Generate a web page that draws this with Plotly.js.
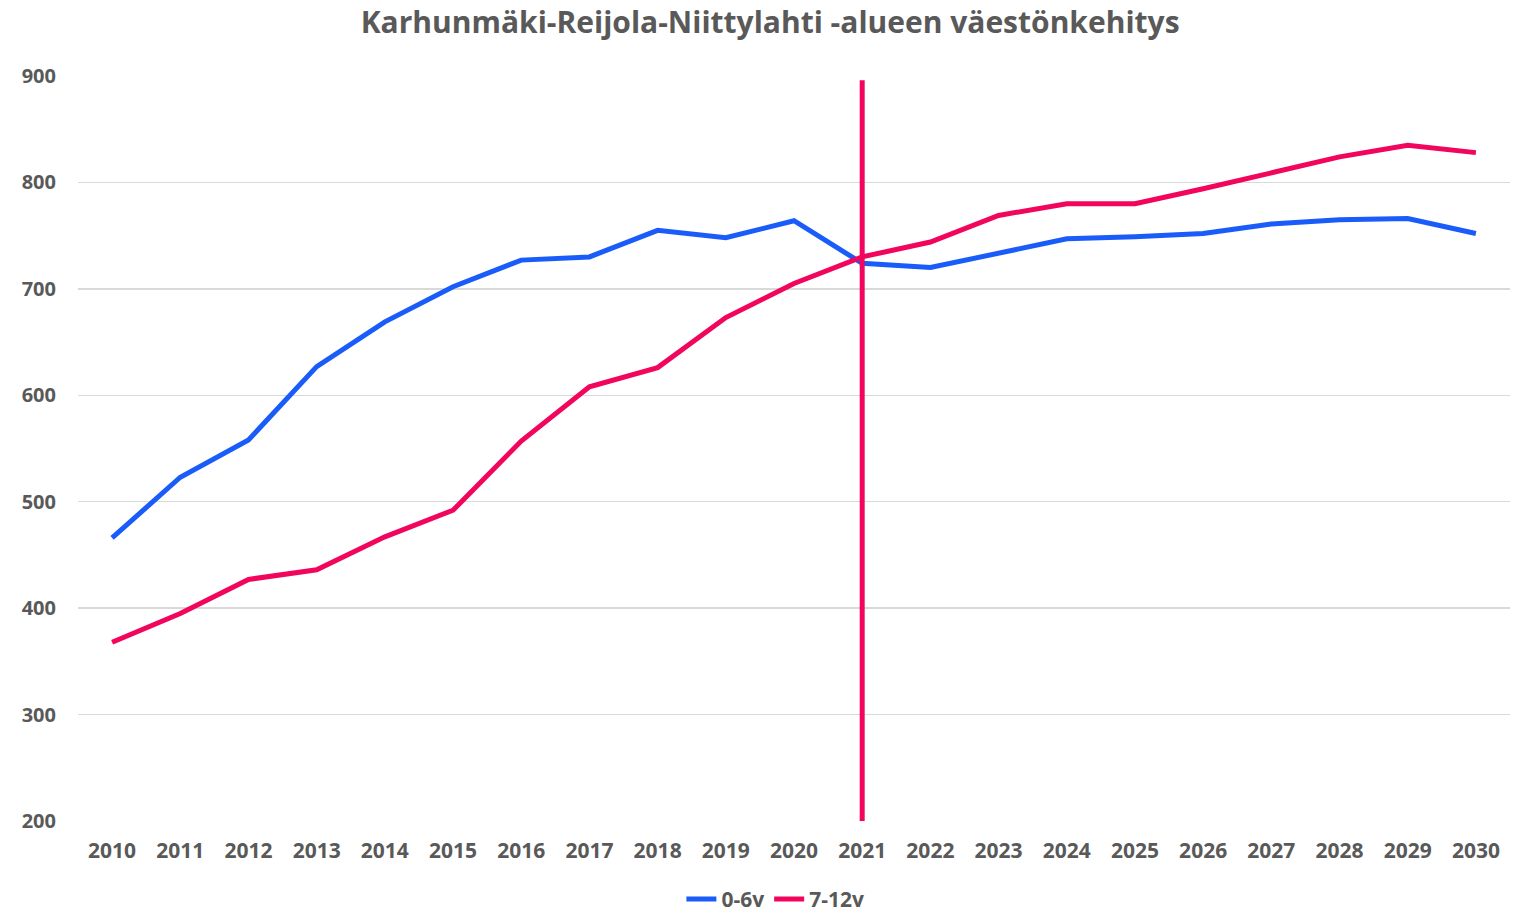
<!DOCTYPE html>
<html>
<head>
<meta charset="utf-8">
<script src="https://cdn.plot.ly/plotly-3.0.1.min.js"></script>
<style>html,body{margin:0;padding:0;background:#fff;}#chart{width:1519px;height:914px;}</style>
</head>
<body>
<div id="chart"></div>
<script>
const years = ['2010','2011','2012','2013','2014','2015','2016','2017','2018','2019','2020','2021','2022','2023','2024','2025','2026','2027','2028','2029','2030'];
const age0to6 = [466,523,558,627,669,702,727,730,755,748,764,724,720,734,747,749,752,761,765,766,752];
const age7to12 = [368,395,427,436,467,492,557,608,626,673,705,730,744,769,780,780,794,809,824,835,828];
const seriesNames = ['0-6v','7-12v'];
const markerYear = '2021';
const markerRange = [200, 896];
const yTicks = [200,300,400,500,600,700,800,900];

const FONT = "'Open Sans', sans-serif";
const GRAY = '#595959';
const BLUE = '#1A5CFA';
const RED = '#F2055C';

const traces = [
  {x: years, y: age0to6, name: seriesNames[0], type: 'scatter', mode: 'lines', line: {color: BLUE, width: 5}},
  {x: years, y: age7to12, name: seriesNames[1], type: 'scatter', mode: 'lines', line: {color: RED, width: 5}},
  {x: [markerYear, markerYear], y: markerRange, type: 'scatter', mode: 'lines', line: {color: RED, width: 5}, showlegend: false, hoverinfo: 'skip'}
];

const layout = {
  width: 1519, height: 914,
  margin: {l: 78, r: 9, t: 76, b: 93},
  paper_bgcolor: '#fff', plot_bgcolor: '#fff',
  font: {family: FONT, color: GRAY},
  title: {text: 'Karhunmäki-Reijola-Niittylahti -alueen väestönkehitys', font: {family: FONT, size: 30, color: GRAY, weight: 'bold'}, x: 0.507, xanchor: 'center', y: 0.975, yanchor: 'middle', yref: 'container'},
  xaxis: {type: 'category', range: [-0.5, 20.5], showgrid: false, zeroline: false, showline: false, ticks: '', tickfont: {family: FONT, size: 21, color: GRAY, weight: 'bold'}, ticklabelstandoff: 15},
  yaxis: {range: [200, 900], tickvals: yTicks, showgrid: true, gridcolor: '#d9d9d9', gridwidth: 1.5, zeroline: false, showline: false, ticks: '', tickfont: {family: FONT, size: 20, color: GRAY, weight: 'bold'}, ticklabelstandoff: 21},
  legend: {orientation: 'h', x: 0.487, xanchor: 'center', xref: 'paper', y: 0.016, yanchor: 'middle', yref: 'container', font: {family: FONT, size: 21, color: GRAY, weight: 'bold'}, traceorder: 'normal'},
  showlegend: true
};

Plotly.newPlot('chart', traces, layout, {displayModeBar: false, staticPlot: true});
</script>
</body>
</html>
